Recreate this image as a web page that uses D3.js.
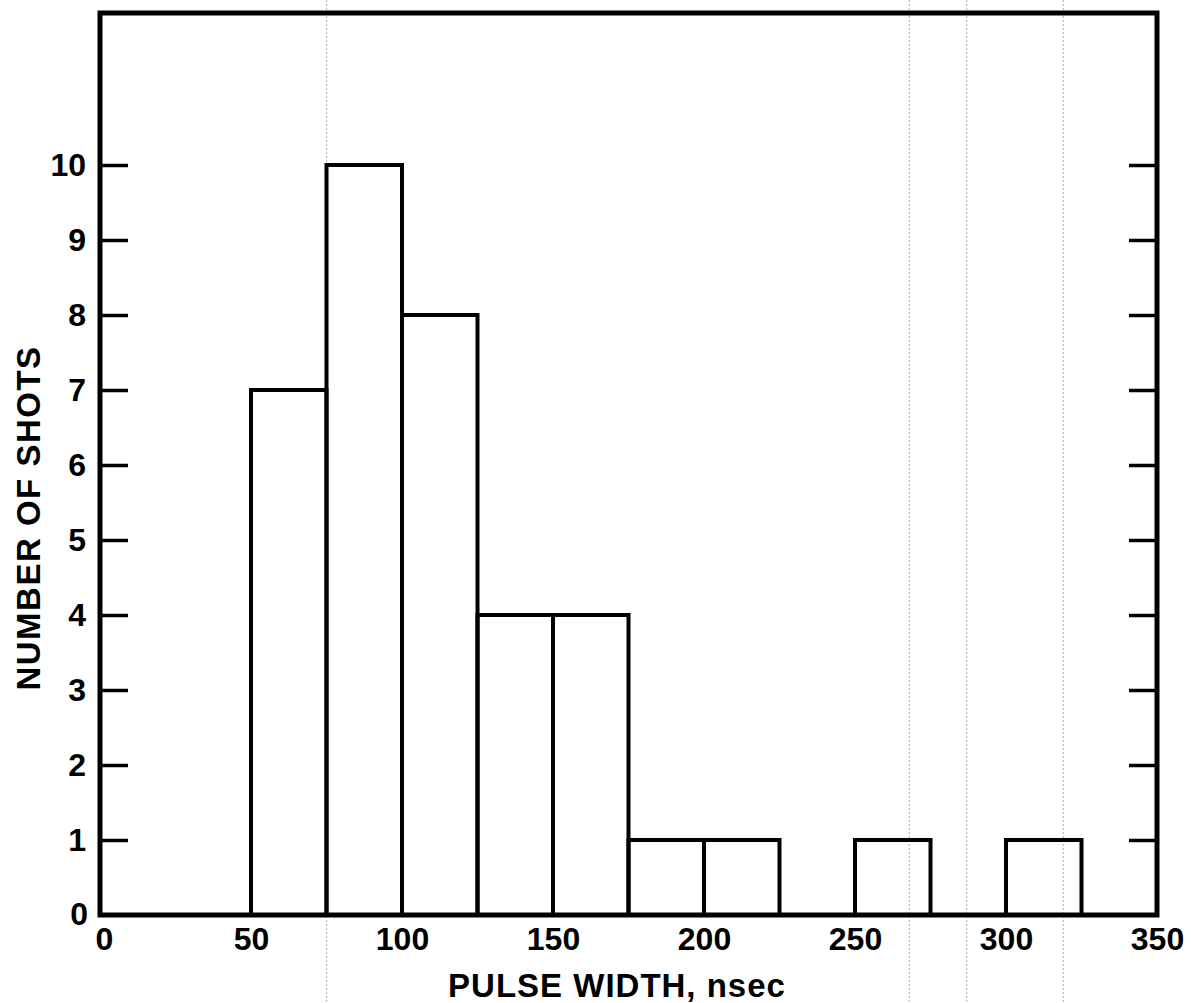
<!DOCTYPE html>
<html>
<head>
<meta charset="utf-8">
<script src="https://cdn.jsdelivr.net/npm/d3@7"></script>
<style>
  body { margin: 0; background: #fff; }
  text { font-family: "Liberation Sans", Arial, sans-serif; font-weight: bold; fill: #000; }
</style>
</head>
<body>
<svg id="chart" width="1191" height="1003"></svg>
<script>
// histogram bins (nsec) and shot counts
var binStart = [50, 75, 100, 125, 150, 175, 200, 250, 300];
var binWidth = 25;
var counts = [7, 10, 8, 4, 4, 1, 1, 1, 1];
var xTicks = [0, 50, 100, 150, 200, 250, 300, 350];
var yTicks = [1, 2, 3, 4, 5, 6, 7, 8, 9, 10];
// faint show-through lines from the scan
var ghostLines = [75, 268, 287, 319];

var svg = d3.select("#chart");
var mLeft = 100, mRight = 1157, mTop = 13, mBottom = 915;

var x = d3.scaleLinear().domain([0, 350]).range([mLeft, mRight]);
var y = d3.scaleLinear().domain([0, 12]).range([mBottom, mTop + 2]);

// scan artifacts
svg.selectAll(".ghost").data(ghostLines)
    .enter().append("line")
    .attr("class", "ghost")
    .attr("x1", function(d) { return x(d); })
    .attr("x2", function(d) { return x(d); })
    .attr("y1", 0)
    .attr("y2", 1003)
    .attr("stroke", "#bbb")
    .attr("stroke-width", 1.2)
    .attr("stroke-dasharray", "2,2");

// bars
svg.selectAll(".bar").data(binStart)
    .enter().append("rect")
    .attr("class", "bar")
    .attr("x", function(d) { return x(d); })
    .attr("y", function(d, i) { return y(counts[i]); })
    .attr("width", function(d) { return x(d + binWidth) - x(d); })
    .attr("height", function(d, i) { return y(0) - y(counts[i]); })
    .attr("fill", "none")
    .attr("stroke", "#000")
    .attr("stroke-width", 4);

// y ticks, inside on both sides
var yLeft = d3.axisLeft(y).tickValues(yTicks).tickSize(-28).tickPadding(14).tickFormat(d3.format("d"));
var gl = svg.append("g").attr("transform", "translate(" + mLeft + ",0)").call(yLeft);
var yRight = d3.axisRight(y).tickValues(yTicks).tickSize(-28).tickFormat("");
var gr = svg.append("g").attr("transform", "translate(" + mRight + ",0)").call(yRight);
[gl, gr].forEach(function(g) {
    g.select(".domain").remove();
    g.selectAll(".tick line").attr("stroke", "#000").attr("stroke-width", 3.5);
});
gl.selectAll(".tick text").attr("font-size", 32).attr("font-family", "Liberation Sans, Arial, sans-serif")
    .attr("font-weight", "bold").attr("x", -14);

// x tick labels (no tick marks)
var xAxis = d3.axisBottom(x).tickValues(xTicks).tickSize(0).tickPadding(12).tickFormat(d3.format("d"));
var gx = svg.append("g").attr("transform", "translate(0," + mBottom + ")").call(xAxis);
gx.select(".domain").remove();
gx.selectAll(".tick text").attr("font-size", 32).attr("font-family", "Liberation Sans, Arial, sans-serif")
    .attr("font-weight", "bold");
gx.selectAll(".tick text").filter(function(d) { return d === 0; }).attr("dx", 4);

// zero on y axis
svg.append("text")
    .attr("x", mLeft - 12)
    .attr("y", y(0) + 10)
    .attr("text-anchor", "end")
    .attr("font-size", 32)
    .text("0");

// frame
svg.append("rect")
    .attr("x", mLeft)
    .attr("y", mTop)
    .attr("width", mRight - mLeft)
    .attr("height", mBottom - mTop)
    .attr("fill", "none")
    .attr("stroke", "#000")
    .attr("stroke-width", 5);

// axis titles
svg.append("text")
    .attr("x", 617)
    .attr("y", 997)
    .attr("text-anchor", "middle")
    .attr("font-size", 33)
    .attr("letter-spacing", 1)
    .text("PULSE WIDTH, nsec");

svg.append("text")
    .attr("transform", "translate(40,518) rotate(-90)")
    .attr("text-anchor", "middle")
    .attr("font-size", 33)
    .attr("letter-spacing", 1.5)
    .text("NUMBER OF SHOTS");
</script>
</body>
</html>
